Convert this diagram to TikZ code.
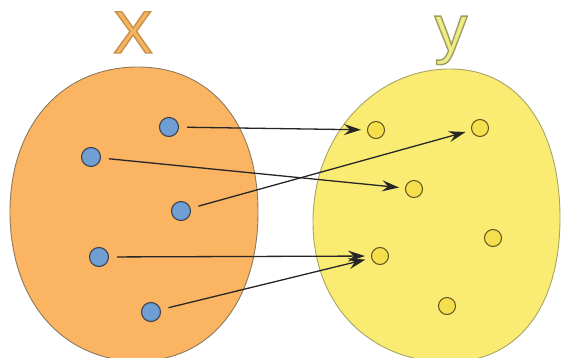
\documentclass[tikz,border=0pt]{standalone}
\usepackage{fontspec}
\setmainfont{Liberation Sans}
\usetikzlibrary{arrows.meta}
\definecolor{orangeset}{HTML}{FBB462}
\definecolor{orangeedge}{HTML}{8C7A5C}
\definecolor{yellowset}{HTML}{FAEC72}
\definecolor{yellowedge}{HTML}{A6A466}
\definecolor{bluedot}{HTML}{6F9ED3}
\definecolor{dotedge}{HTML}{3C4250}
\definecolor{ydot}{HTML}{F6DF4C}
\definecolor{ydotedge}{HTML}{5E5020}
\definecolor{xlabel}{HTML}{F5B45E}
\definecolor{ylabel}{HTML}{EFEC86}
\newcommand{\outlined}[2]{\special{pdf:literal direct #1 RG 1.4 w 2 Tr}#2\special{pdf:literal direct 0 Tr}}
\tikzset{
  setblob/.style={line width=0.9pt},
  srcdot/.style={circle, fill=bluedot, draw=dotedge, line width=1.1pt, minimum size=19pt, inner sep=0pt},
  tgtdot/.style={circle, fill=ydot, draw=ydotedge, line width=1pt, minimum size=17pt, inner sep=0pt},
  maparrow/.style={-{Stealth[length=17pt,width=11pt,inset=6pt]}, line width=1.3pt, draw=black!85, shorten <=8pt, shorten >=6pt},
  setlabel/.style={inner sep=0pt}
}
\begin{document}
\begin{tikzpicture}[x=1pt,y=-1pt]
\useasboundingbox (0,0) rectangle (563,358);
% sets
\draw[setblob, fill=orangeset, draw=orangeedge]
  (138,67) .. controls (212,67) and (258,125) .. (258,212)
           .. controls (258,300) and (212,361) .. (138,361)
           .. controls (62,361) and (10,300) .. (10,212)
           .. controls (10,125) and (62,67) .. (138,67) -- cycle;
\draw[setblob, fill=yellowset, draw=yellowedge]
  (450,69) .. controls (522,69) and (560,132) .. (560,218)
           .. controls (560,302) and (522,362) .. (448,362)
           .. controls (370,362) and (313,305) .. (313,222)
           .. controls (313,135) and (375,69) .. (450,69) -- cycle;
% labels
\node[setlabel, text=xlabel, font=\fontsize{60}{60}\selectfont, anchor=base] (lx) at (133,53) {\outlined{0.78 0.56 0.30}{X}};
\node[setlabel, text=ylabel, font=\fontsize{66}{66}\selectfont, anchor=base] (ly) at (451,51) {\outlined{0.62 0.62 0.38}{y}};
% source elements
\node[srcdot] (a1) at (169,127) {};
\node[srcdot] (a2) at (91,157) {};
\node[srcdot] (a3) at (181,211) {};
\node[srcdot] (a4) at (99,257) {};
\node[srcdot] (a5) at (151,312) {};
% target elements
\node[tgtdot] (b1) at (376,130) {};
\node[tgtdot] (b2) at (480,128) {};
\node[tgtdot] (b3) at (414,189) {};
\node[tgtdot] (b4) at (493,238) {};
\node[tgtdot] (b5) at (380,256) {};
\node[tgtdot] (b6) at (447,306) {};
% mapping
\draw[maparrow] (a1) -- (b1);
\draw[maparrow] (a2) -- (b3);
\draw[maparrow] (a3) -- (b2);
\draw[maparrow] (a4) -- (b5);
\draw[maparrow] (a5) -- (b5);
\end{tikzpicture}
\end{document}
